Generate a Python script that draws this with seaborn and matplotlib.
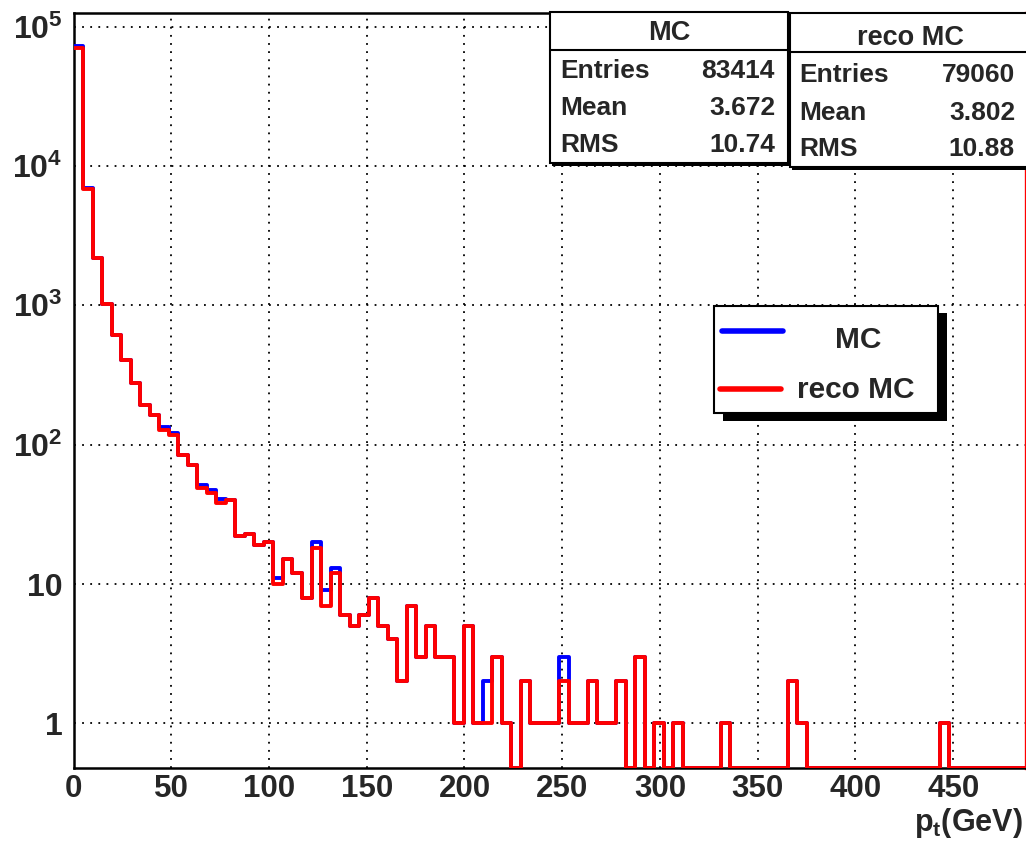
import numpy as np
import pandas as pd
import matplotlib
matplotlib.use("Agg")
import matplotlib.pyplot as plt
import seaborn as sns
from matplotlib.patches import Rectangle
from matplotlib.lines import Line2D
from matplotlib.ticker import FixedLocator, LogLocator, NullFormatter, MultipleLocator

# --- data: 100 bins of p_t between 0 and 487 GeV ---
n_bins = 100
pt_max = 487.0

reco_counts = [69800, 6850, 2170, 1030, 610, 405, 277, 193, 164, 128,
               118, 85, 72, 49, 45, 38, 40, 22, 23, 19,
               20, 10, 15, 12, 8, 18, 7, 12, 6, 5,
               6, 8, 5, 4, 2, 7, 3, 5, 3, 3,
               1, 5, 1, 1, 3, 1, 0, 2, 1, 1,
               1, 2, 1, 1, 2, 1, 1, 2, 0, 3,
               0, 1, 0, 1, 0, 0, 0, 0, 1, 0,
               0, 0, 0, 0, 0, 2, 1, 0, 0, 0,
               0, 0, 0, 0, 0, 0, 0, 0, 0, 0,
               0, 1, 0, 0, 0, 0, 0, 0, 0, 0]

mc_counts = [73000, 7000, 2170, 1030, 610, 405, 277, 193, 164, 133,
             122, 85, 72, 51, 47, 41, 40, 22, 23, 19,
             20, 11, 15, 12, 8, 20, 9, 13, 6, 5,
             6, 8, 5, 4, 2, 7, 3, 5, 3, 3,
             1, 5, 1, 2, 3, 1, 0, 2, 1, 1,
             1, 3, 1, 1, 2, 1, 1, 2, 0, 3,
             0, 1, 0, 1, 0, 0, 0, 0, 1, 0,
             0, 0, 0, 0, 0, 2, 1, 0, 0, 0,
             0, 0, 0, 0, 0, 0, 0, 0, 0, 0,
             0, 1, 0, 0, 0, 0, 0, 0, 0, 0]

stat_names = ["Entries", "Mean", "RMS"]
mc_stats = ["83414", "3.672", "10.74"]
reco_stats = ["79060", "3.802", "10.88"]

x_ticks = [0, 50, 100, 150, 200, 250, 300, 350, 400, 450]
y_ticks = [1, 10, 100, 1000, 10000, 100000]
y_labels = ["1", "10", r"$\mathbf{10^{2}}$", r"$\mathbf{10^{3}}$",
            r"$\mathbf{10^{4}}$", r"$\mathbf{10^{5}}$"]

# --- style ---
sns.set_style("white")
plt.rcParams["font.family"] = ["Liberation Sans", "DejaVu Sans"]
plt.rcParams["font.weight"] = "bold"
plt.rcParams["mathtext.fontset"] = "custom"
plt.rcParams["mathtext.rm"] = "Liberation Sans:bold"
plt.rcParams["mathtext.bf"] = "Liberation Sans:bold"
plt.rcParams["mathtext.it"] = "Liberation Sans:bold"

W, H = 1026, 851
fig = plt.figure(figsize=(W / 100, H / 100), dpi=100)
ax = fig.add_axes([73.5 / W, 1 - 768 / H, (1025.5 - 73.5) / W, (768 - 12.7) / H])


def fx(x):
    return x / W


def fy(y):
    return 1 - y / H


# --- histograms (ROOT draws empty bins on the frame minimum) ---
y_min, y_max = 0.478, 1.26e5
edges = np.linspace(0, pt_max, n_bins + 1)
centers = (edges[:-1] + edges[1:]) / 2
df = pd.DataFrame({
    "pt": np.tile(centers, 2),
    "entries": np.maximum(np.r_[mc_counts, reco_counts], y_min),
    "sample": ["MC"] * n_bins + ["reco MC"] * n_bins,
})
colors = {"MC": "#0000ff", "reco MC": "#ff0000"}
for name in ["MC", "reco MC"]:
    sns.histplot(data=df[df["sample"] == name], x="pt", weights="entries",
                 bins=edges.tolist(), element="step", fill=False, color=colors[name],
                 linewidth=2.8, zorder=3, ax=ax)

ax.set_yscale("log")
ax.set_xlim(0, pt_max)
ax.set_ylim(y_min, y_max)
ax.set_xlabel("")
ax.set_ylabel("")

ax.xaxis.set_major_locator(FixedLocator(x_ticks))
ax.xaxis.set_minor_locator(MultipleLocator(10))
ax.set_xticklabels([str(t) for t in x_ticks], fontsize=22.5, fontweight="bold")
ax.yaxis.set_major_locator(FixedLocator(y_ticks))
ax.yaxis.set_minor_locator(LogLocator(base=10, subs=np.arange(2, 10), numticks=20))
ax.yaxis.set_minor_formatter(NullFormatter())
ax.set_yticklabels(y_labels, fontsize=23, fontweight="bold")

ax.tick_params(axis="x", which="major", direction="in", length=16, width=1.5, pad=4.5)
ax.tick_params(axis="x", which="minor", direction="in", length=7, width=1.5)
ax.tick_params(axis="y", which="major", direction="in", length=20, width=1.5, pad=8)
ax.tick_params(axis="y", which="minor", direction="in", length=10, width=1.5)

ax.grid(True, which="major", color="black", linestyle=(0, (1, 3.5)), linewidth=1.3)
for side in ["left", "bottom", "top"]:
    ax.spines[side].set_color("black")
    ax.spines[side].set_linewidth(1.8)
ax.spines["right"].set_color("red")
ax.spines["right"].set_linewidth(2.4)

# x axis title
fig.text(fx(1023), fy(831), r"$\mathbf{p_{t}}$(GeV)", ha="right", va="baseline",
         fontsize=22, fontweight="bold")


# --- stat boxes ---
def stat_box(x0, y0, x1, y1, y_sep, title, title_base, values, bases, lab_x, val_x):
    fig.add_artist(Rectangle((fx(x0 + 2), fy(y1 + 3)), fx(x1 - x0), fy(0) - fy(y1 - y0),
                             transform=fig.transFigure, facecolor="black",
                             edgecolor="none", zorder=9))
    fig.add_artist(Rectangle((fx(x0), fy(y1)), fx(x1 - x0), fy(0) - fy(y1 - y0),
                             transform=fig.transFigure, facecolor="white",
                             edgecolor="black", linewidth=1.5, zorder=10))
    fig.add_artist(Line2D([fx(x0), fx(x1)], [fy(y_sep), fy(y_sep)],
                          transform=fig.transFigure, color="black", lw=1.5, zorder=11))
    fig.text(fx((x0 + x1) / 2), fy(title_base), title, ha="center", va="baseline",
             fontsize=19.5, fontweight="bold", zorder=12)
    for name, val, b in zip(stat_names, values, bases):
        fig.text(fx(lab_x), fy(b), name, ha="left", va="baseline",
                 fontsize=19, fontweight="bold", zorder=12)
        fig.text(fx(val_x), fy(b), val, ha="right", va="baseline",
                 fontsize=19, fontweight="bold", zorder=12)


stat_box(550, 11.7, 788, 163, 50, "MC", 40.5, mc_stats, [78, 115, 151.5], 560, 775)
stat_box(790, 13.3, 1030, 166.5, 52, "reco MC", 45, reco_stats, [81.5, 119.5, 156.5], 799, 1015)

# --- legend box with ROOT style shadow ---
lx0, ly0, lx1, ly1 = 713.5, 305.5, 938, 413
fig.add_artist(Rectangle((fx(lx0 + 9), fy(ly1 + 8)), fx(lx1 - lx0), fy(0) - fy(ly1 - ly0),
                         transform=fig.transFigure, facecolor="black", edgecolor="none", zorder=9))
fig.add_artist(Rectangle((fx(lx0), fy(ly1)), fx(lx1 - lx0), fy(0) - fy(ly1 - ly0),
                         transform=fig.transFigure, facecolor="white", edgecolor="black",
                         linewidth=1.5, zorder=10))
fig.add_artist(Line2D([fx(722), fx(783)], [fy(331), fy(331)], transform=fig.transFigure,
                      color=colors["MC"], lw=4, zorder=11))
fig.add_artist(Line2D([fx(720), fx(781)], [fy(389), fy(389)], transform=fig.transFigure,
                      color=colors["reco MC"], lw=4, zorder=11))
fig.text(fx(858), fy(348.5), "MC", ha="center", va="baseline", fontsize=21.5,
         fontweight="bold", zorder=12)
fig.text(fx(856), fy(398.5), "reco MC", ha="center", va="baseline", fontsize=21.5,
         fontweight="bold", zorder=12)

fig.savefig("out.png", dpi=100)
